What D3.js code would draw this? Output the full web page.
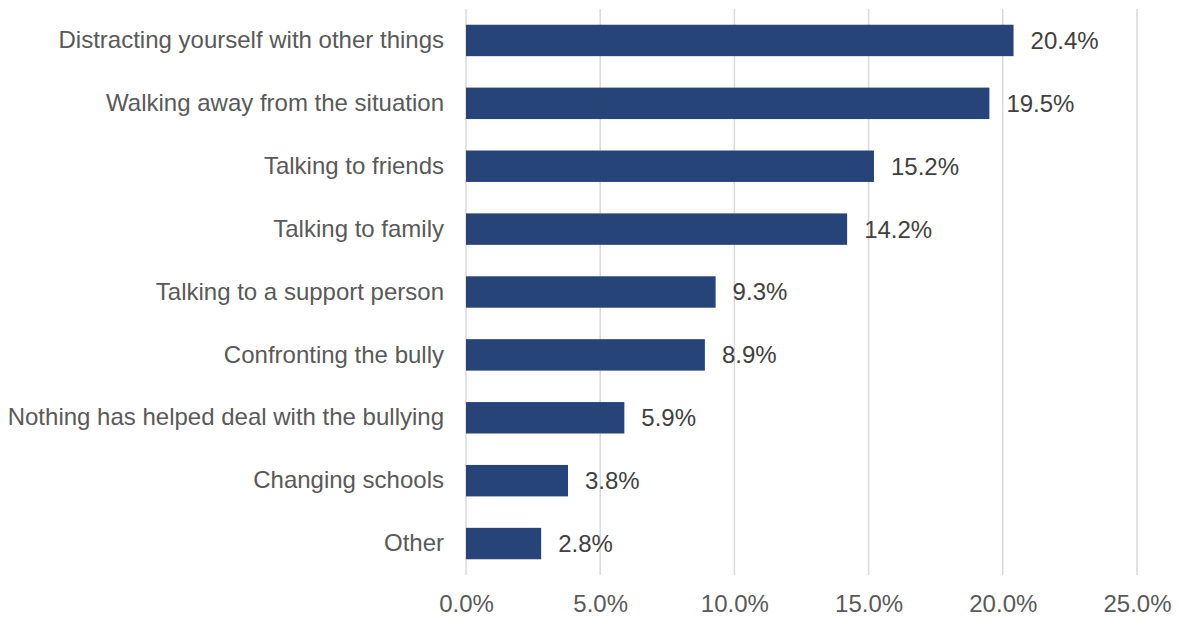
<!DOCTYPE html>
<html>
<head>
<meta charset="utf-8">
<script src="https://cdn.jsdelivr.net/npm/d3@7"></script>
<style>
  html, body { margin: 0; padding: 0; background: #ffffff; }
  svg { display: block; }
</style>
</head>
<body>
<svg id="chart" width="1179" height="617"></svg>
<script>
// Ways of dealing with bullying, share of responses
const categories = [
  "Distracting yourself with other things",
  "Walking away from the situation",
  "Talking to friends",
  "Talking to family",
  "Talking to a support person",
  "Confronting the bully",
  "Nothing has helped deal with the bullying",
  "Changing schools",
  "Other"
];
const values = [20.4, 19.5, 15.2, 14.2, 9.3, 8.9, 5.9, 3.8, 2.8];
const tickValues = [0, 5, 10, 15, 20, 25];

const svg = d3.select("#chart");
const margin = { top: 9, right: 42, bottom: 42, left: 466 };
const width = 1179, height = 617;
const font = "'Liberation Sans', Arial, sans-serif";
const fontSize = 24;

const x = d3.scaleLinear().domain([0, 25]).range([margin.left, width - margin.right]);
const y = d3.scaleBand().domain(categories)
  .range([margin.top, height - margin.bottom])
  .paddingInner(0.5).paddingOuter(0.25);

// Vertical gridlines
svg.append("g").selectAll("line").data(tickValues).join("line")
  .attr("x1", d => x(d)).attr("x2", d => x(d))
  .attr("y1", margin.top).attr("y2", height - margin.bottom)
  .attr("stroke", "#d9d9d9").attr("stroke-width", 1.5);

// Bottom axis tick labels
const xAxis = d3.axisBottom(x).tickValues(tickValues)
  .tickFormat(d => d.toFixed(1) + "%").tickSize(0).tickPadding(20);
const gx = svg.append("g").attr("transform", `translate(0,${height - margin.bottom})`).call(xAxis);
gx.select(".domain").remove();
gx.selectAll("text").attr("font-family", font).attr("font-size", fontSize).attr("fill", "#595959");

// Category labels
const yAxis = d3.axisLeft(y).tickSize(0).tickPadding(22);
const gy = svg.append("g").attr("transform", `translate(${margin.left},0)`).call(yAxis);
gy.select(".domain").remove();
gy.selectAll("text").attr("font-family", font).attr("font-size", fontSize).attr("fill", "#595959");

// Bars
svg.append("g").selectAll("rect").data(values).join("rect")
  .attr("x", x(0))
  .attr("y", (d, i) => y(categories[i]))
  .attr("width", d => x(d) - x(0))
  .attr("height", y.bandwidth())
  .attr("fill", "#264478");

// Value labels
svg.append("g").selectAll("text").data(values).join("text")
  .attr("x", d => x(d) + 17)
  .attr("y", (d, i) => y(categories[i]) + y.bandwidth() / 2)
  .attr("dy", "0.35em")
  .attr("font-family", font).attr("font-size", fontSize).attr("fill", "#404040")
  .text(d => d.toFixed(1) + "%");
</script>
</body>
</html>
